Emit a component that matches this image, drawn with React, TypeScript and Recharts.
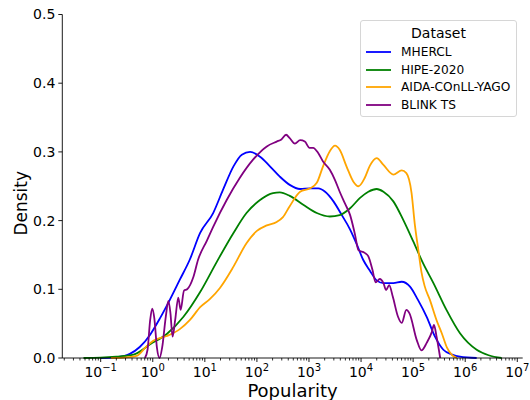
import React from 'react';
import { LineChart, Line, XAxis, YAxis, Legend } from 'recharts';

// log10(Popularity) sample points and KDE density
const mherclLogPop = [-1.0, -0.7, -0.44, -0.25, -0.05, 0.14, 0.33, 0.52, 0.71, 0.91, 1.16, 1.35, 1.55, 1.71, 1.87, 2.06, 2.25, 2.44, 2.63, 2.83, 3.02, 3.18, 3.31, 3.47, 3.63, 3.79, 3.92, 4.04, 4.17, 4.3, 4.43, 4.62, 4.78, 4.94, 5.09, 5.26, 5.42, 5.58, 5.75, 5.9, 6.22];
const mherclDensity = [0.0, 0.001, 0.006, 0.016, 0.034, 0.058, 0.085, 0.114, 0.143, 0.182, 0.211, 0.245, 0.279, 0.296, 0.3, 0.293, 0.279, 0.264, 0.252, 0.246, 0.247, 0.247, 0.242, 0.228, 0.208, 0.187, 0.165, 0.143, 0.127, 0.113, 0.109, 0.109, 0.111, 0.104, 0.085, 0.06, 0.031, 0.012, 0.005, 0.002, 0.0];

const hipeLogPop = [-1.33, -1.0, -0.7, -0.37, -0.05, 0.27, 0.59, 0.91, 1.23, 1.55, 1.8, 2.06, 2.31, 2.44, 2.63, 2.89, 3.15, 3.4, 3.59, 3.79, 3.98, 4.14, 4.3, 4.43, 4.62, 4.81, 5.0, 5.19, 5.39, 5.64, 5.9, 6.22, 6.45, 6.7];
const hipeDensity = [0.0, 0.0005, 0.002, 0.005, 0.02, 0.035, 0.06, 0.096, 0.14, 0.182, 0.211, 0.23, 0.24, 0.241, 0.236, 0.223, 0.211, 0.206, 0.208, 0.218, 0.233, 0.242, 0.246, 0.242, 0.228, 0.201, 0.17, 0.138, 0.109, 0.07, 0.036, 0.012, 0.004, 0.0];

const aidaLogPop = [-0.8, -0.5, -0.31, -0.12, 0.01, 0.27, 0.52, 0.71, 0.91, 1.1, 1.29, 1.55, 1.8, 2.0, 2.19, 2.38, 2.5, 2.63, 2.83, 3.02, 3.15, 3.27, 3.4, 3.5, 3.59, 3.72, 3.85, 3.95, 4.07, 4.17, 4.3, 4.43, 4.62, 4.78, 4.87, 4.97, 5.03, 5.1, 5.16, 5.22, 5.32, 5.45, 5.55, 5.65, 5.75, 5.84];
const aidaDensity = [0.0, 0.001, 0.003, 0.017, 0.025, 0.032, 0.042, 0.055, 0.074, 0.086, 0.102, 0.133, 0.167, 0.185, 0.193, 0.198, 0.205, 0.221, 0.242, 0.247, 0.255, 0.279, 0.301, 0.309, 0.303, 0.279, 0.257, 0.25, 0.262, 0.28, 0.291, 0.281, 0.267, 0.273, 0.269, 0.24, 0.196, 0.157, 0.125, 0.105, 0.085, 0.055, 0.036, 0.015, 0.004, 0.0];

const blinkLogPop = [-0.15, -0.1, -0.05, -0.01, 0.03, 0.08, 0.13, 0.18, 0.25, 0.3, 0.34, 0.38, 0.43, 0.49, 0.535, 0.6, 0.66, 0.78, 0.87, 1.04, 1.16, 1.42, 1.67, 1.93, 2.19, 2.38, 2.47, 2.56, 2.63, 2.73, 2.83, 2.92, 3.01, 3.08, 3.18, 3.27, 3.4, 3.5, 3.59, 3.69, 3.79, 3.88, 3.95, 4.07, 4.14, 4.22, 4.28, 4.36, 4.43, 4.48, 4.54, 4.61, 4.71, 4.78, 4.87, 4.93, 5.07, 5.16, 5.26, 5.36, 5.4, 5.45, 5.52];
const blinkDensity = [0.0, 0.012, 0.055, 0.072, 0.058, 0.015, 0.0, 0.015, 0.06, 0.083, 0.065, 0.031, 0.055, 0.088, 0.07, 0.098, 0.1, 0.118, 0.143, 0.171, 0.191, 0.23, 0.262, 0.289, 0.308, 0.315, 0.318, 0.325, 0.32, 0.312, 0.317, 0.315, 0.306, 0.306, 0.298, 0.286, 0.274, 0.259, 0.242, 0.225, 0.208, 0.181, 0.157, 0.153, 0.148, 0.128, 0.11, 0.115, 0.109, 0.099, 0.106, 0.089, 0.06, 0.051, 0.07, 0.065, 0.026, 0.011, 0.022, 0.038, 0.048, 0.031, 0.0];

const seriesNames = ['MHERCL', 'HIPE-2020', 'AIDA-COnLL-YAGO', 'BLINK TS'];
const seriesColors = ['#0000ff', '#008000', '#ffa500', '#800080'];
const yTicks = [0.0, 0.1, 0.2, 0.3, 0.4, 0.5];
const xMajorExponents = [-1, 0, 1, 2, 3, 4, 5, 6, 7];
const legendTitle = 'Dataset';
const xLabel = 'Popularity';
const yLabel = 'Density';

const X_MIN = -1.737;
const X_MAX = 7.104;
const FONT = "'DejaVu Sans', sans-serif";

const toRows = (xs: number[], ys: number[]) => xs.map((x, i) => ({ x, y: ys[i] }));
const seriesData = [
  toRows(mherclLogPop, mherclDensity),
  toRows(hipeLogPop, hipeDensity),
  toRows(aidaLogPop, aidaDensity),
  toRows(blinkLogPop, blinkDensity),
];

const minorTicks: number[] = [];
for (let n = -2; n <= 7; n++) {
  for (let k = 2; k <= 9; k++) {
    const v = n + Math.log10(k);
    if (v > X_MIN && v < X_MAX) minorTicks.push(v);
  }
}
const allXTicks = [...xMajorExponents, ...minorTicks].sort((a, b) => a - b);

const XTick = (props: any) => {
  const { x, y, payload } = props;
  const v = payload.value as number;
  const isMajor = Math.abs(v - Math.round(v)) < 1e-9;
  if (!isMajor) {
    return <line x1={x} x2={x} y1={y} y2={y + 2.5} stroke="#000" strokeWidth={0.8} />;
  }
  const e = Math.round(v);
  const expText = e < 0 ? '\u2212' + Math.abs(e) : String(e);
  return (
    <g>
      <line x1={x} x2={x} y1={y} y2={y + 4} stroke="#000" strokeWidth={0.9} />
      <text x={x} y={y + 19} textAnchor="middle" fontFamily={FONT} fontSize={14} fill="#000">
        <tspan>10</tspan>
        <tspan dy={-6.5} fontSize={10}>{expText}</tspan>
      </text>
    </g>
  );
};

const renderLegend = () => (
  <div
    style={{
      position: 'relative',
      width: 157,
      height: 97,
      boxSizing: 'border-box',
      border: '1px solid #d6d6d6',
      borderRadius: 3,
      background: 'rgba(255,255,255,0.8)',
      fontFamily: FONT,
      color: '#000',
    }}
  >
    <div style={{ position: 'absolute', left: 0, right: 0, top: 3, textAlign: 'center', fontSize: 14, lineHeight: '18px' }}>
      {legendTitle}
    </div>
    {seriesNames.map((n, i) => (
      <div key={n} style={{ position: 'absolute', left: 4, top: 23 + i * 17.5, height: 16, display: 'flex', alignItems: 'center' }}>
        <svg width={26} height={16} style={{ display: 'block' }}>
          <line x1={1} x2={26} y1={8} y2={8} stroke={seriesColors[i]} strokeWidth={1.8} />
        </svg>
        <span style={{ marginLeft: 10, fontSize: 12.2, lineHeight: '16px', whiteSpace: 'nowrap' }}>{n}</span>
      </div>
    ))}
  </div>
);

export default function App() {
  return (
    <div style={{ position: 'absolute', left: 0, top: 0, width: 530, height: 400, background: '#fff' }}>
      <LineChart width={530} height={400} margin={{ top: 14.5, right: 7.3, bottom: 0, left: 0 }}>
        <XAxis
          dataKey="x"
          type="number"
          domain={[X_MIN, X_MAX]}
          allowDataOverflow
          ticks={allXTicks}
          interval={0}
          tick={<XTick />}
          tickLine={false}
          tickSize={0}
          tickMargin={0}
          height={42}
          axisLine={{ stroke: '#000', strokeWidth: 0.9 }}
          label={{
            content: (p: any) => {
              const vb = p.viewBox;
              return (
                <text x={vb.x + vb.width / 2} y={vb.y + 38.5} textAnchor="middle" fontFamily={FONT} fontSize={18} fill="#000">
                  {xLabel}
                </text>
              );
            },
          }}
        />
        <XAxis
          xAxisId="top"
          orientation="top"
          type="number"
          domain={[X_MIN, X_MAX]}
          allowDataOverflow
          height={0}
          tick={false}
          tickLine={false}
          axisLine={{ stroke: '#000', strokeWidth: 0.9 }}
        />
        <YAxis
          type="number"
          domain={[0, 0.5]}
          ticks={yTicks}
          interval={0}
          width={62.3}
          tickSize={4}
          tickMargin={3}
          tickFormatter={(v: number) => v.toFixed(1)}
          tick={{ fontSize: 14, fill: '#000', fontFamily: FONT }}
          tickLine={{ stroke: '#000', strokeWidth: 0.9 }}
          axisLine={{ stroke: '#000', strokeWidth: 0.9 }}
          label={{
            content: (p: any) => {
              const vb = p.viewBox;
              const cx = vb.x + 21;
              const cy = vb.y + vb.height / 2 + 17;
              return (
                <text x={cx} y={cy} transform={`rotate(-90 ${cx} ${cy})`} textAnchor="middle" dominantBaseline="central" fontFamily={FONT} fontSize={17} fill="#000">
                  {yLabel}
                </text>
              );
            },
          }}
        />
        <YAxis
          yAxisId="right"
          orientation="right"
          type="number"
          domain={[0, 0.5]}
          width={0}
          tick={false}
          tickLine={false}
          axisLine={{ stroke: '#000', strokeWidth: 0.9 }}
        />
        {seriesNames.map((n, i) => (
          <Line
            key={n}
            data={seriesData[i]}
            dataKey="y"
            name={n}
            type="monotone"
            stroke={seriesColors[i]}
            strokeWidth={1.8}
            dot={false}
            activeDot={false}
            isAnimationActive={false}
          />
        ))}
        <Legend
          layout="vertical"
          align="center"
          verticalAlign="middle"
          content={renderLegend}
          wrapperStyle={{ position: 'absolute', left: 360, top: 20, width: 157, height: 97 }}
        />
      </LineChart>
    </div>
  );
}
